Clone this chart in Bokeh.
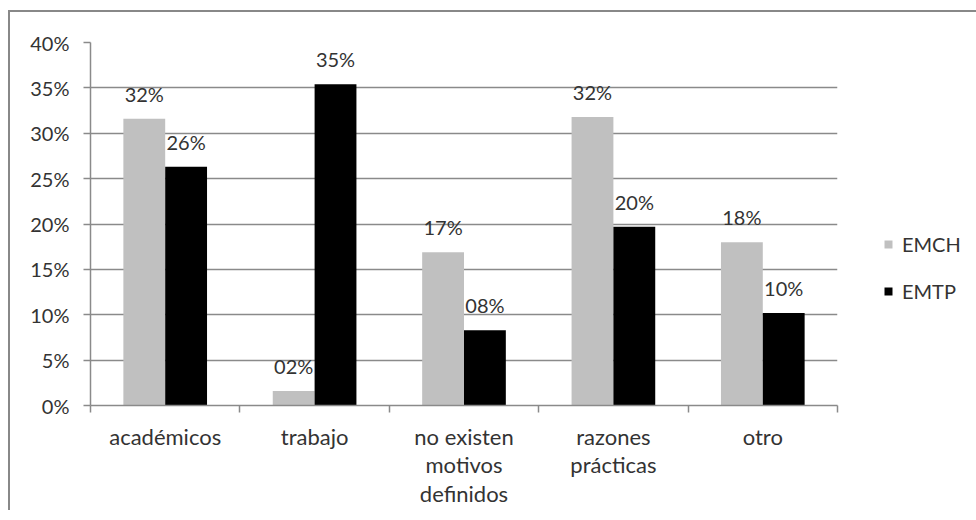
from bokeh.plotting import figure
from bokeh.models import ColumnDataSource, FixedTicker, NumeralTickFormatter, Legend, LegendItem, Range1d
from bokeh.transform import dodge
from bokeh.core.properties import value
from bokeh.embed import file_html
from bokeh.resources import INLINE

categories = ["académicos", "trabajo", "no existen\nmotivos\ndefinidos", "razones\nprácticas", "otro"]
series_names = ["EMCH", "EMTP"]
emch = [0.316, 0.016, 0.169, 0.318, 0.180]
emtp = [0.263, 0.354, 0.083, 0.197, 0.102]
emch_labels = ["32%", "02%", "17%", "32%", "18%"]
emtp_labels = ["26%", "35%", "08%", "20%", "10%"]
y_ticks = [0.0, 0.05, 0.10, 0.15, 0.20, 0.25, 0.30, 0.35, 0.40]

FONT = "Lato"
TXT = "#333333"
GRID = "#8a8a8a"

pos = [i + 0.5 for i in range(len(categories))]
bounds = [float(i) for i in range(len(categories) + 1)]
src = ColumnDataSource(dict(x=pos, emch=emch, emtp=emtp, emch_lab=emch_labels, emtp_lab=emtp_labels))

p = figure(frame_width=747, frame_height=363,
           min_border_left=80, min_border_right=130, min_border_top=30, min_border_bottom=105,
           x_range=Range1d(0, len(categories)), y_range=Range1d(0, 0.40),
           output_backend="svg", toolbar_location=None)
# outer chart-area border (only top and left edges fall inside the window)
p.styles = {"border-top": "2px solid #888888", "border-left": "2px solid #888888",
            "margin-left": "8px", "margin-top": "10px"}
p.outline_line_color = None
p.background_fill_color = "white"
p.border_fill_color = "white"

w = 0.28
r1 = p.vbar(x=dodge("x", -0.14, range=p.x_range), top="emch", width=w, source=src,
            fill_color="#c0c0c0", line_color=None)
r2 = p.vbar(x=dodge("x", 0.14, range=p.x_range), top="emtp", width=w, source=src,
            fill_color="#000000", line_color=None)

for col, lab, off in [("emch", "emch_lab", -0.14), ("emtp", "emtp_lab", 0.14)]:
    p.text(x=dodge("x", off, range=p.x_range), y=col, text=lab, source=src,
           text_align="center", text_baseline="bottom", y_offset=-13,
           text_font=value(FONT), text_font_size="20px", text_color=TXT)

# grid
p.xgrid.visible = False
p.ygrid.ticker = FixedTicker(ticks=y_ticks)
p.ygrid.grid_line_color = GRID
p.ygrid.grid_line_width = 1.5

# y axis
ya = p.yaxis[0]
ya.ticker = FixedTicker(ticks=y_ticks)
ya.formatter = NumeralTickFormatter(format="0%")
ya.axis_line_color = GRID
ya.axis_line_width = 1.5
ya.major_tick_line_color = GRID
ya.major_tick_line_width = 1.5
ya.major_tick_out = 7
ya.major_tick_in = 0
ya.minor_tick_line_color = None
ya.major_label_standoff = 14
ya.major_label_text_font = FONT
ya.major_label_text_font_size = "20px"
ya.major_label_text_color = TXT

# x axis
xa = p.xaxis[0]
xa.ticker = FixedTicker(ticks=pos, minor_ticks=bounds)
xa.major_label_overrides = {x: c for x, c in zip(pos, categories)}
xa.axis_line_color = GRID
xa.axis_line_width = 1.5
xa.major_tick_line_color = None
xa.major_tick_out = 0
xa.major_tick_in = 0
xa.minor_tick_line_color = GRID
xa.minor_tick_line_width = 1.5
xa.minor_tick_out = 7
xa.minor_tick_in = 0
xa.major_label_standoff = 10
xa.major_label_text_font = FONT
xa.major_label_text_font_size = "22px"
xa.major_label_text_color = TXT
xa.major_label_text_line_height = 1.07

legend = Legend(items=[LegendItem(label=series_names[0], renderers=[r1]),
                       LegendItem(label=series_names[1], renderers=[r2])],
                location=(46, 102), orientation="vertical")
legend.glyph_width = 10
legend.glyph_height = 10
legend.label_height = 20
legend.spacing = 23
legend.padding = 0
legend.margin = 0
legend.label_standoff = 9
legend.label_text_font = FONT
legend.label_text_font_size = "20px"
legend.label_text_color = TXT
legend.border_line_color = None
legend.background_fill_alpha = 0
p.add_layout(legend, "right")

open("out.html", "w").write(file_html(p, INLINE))
